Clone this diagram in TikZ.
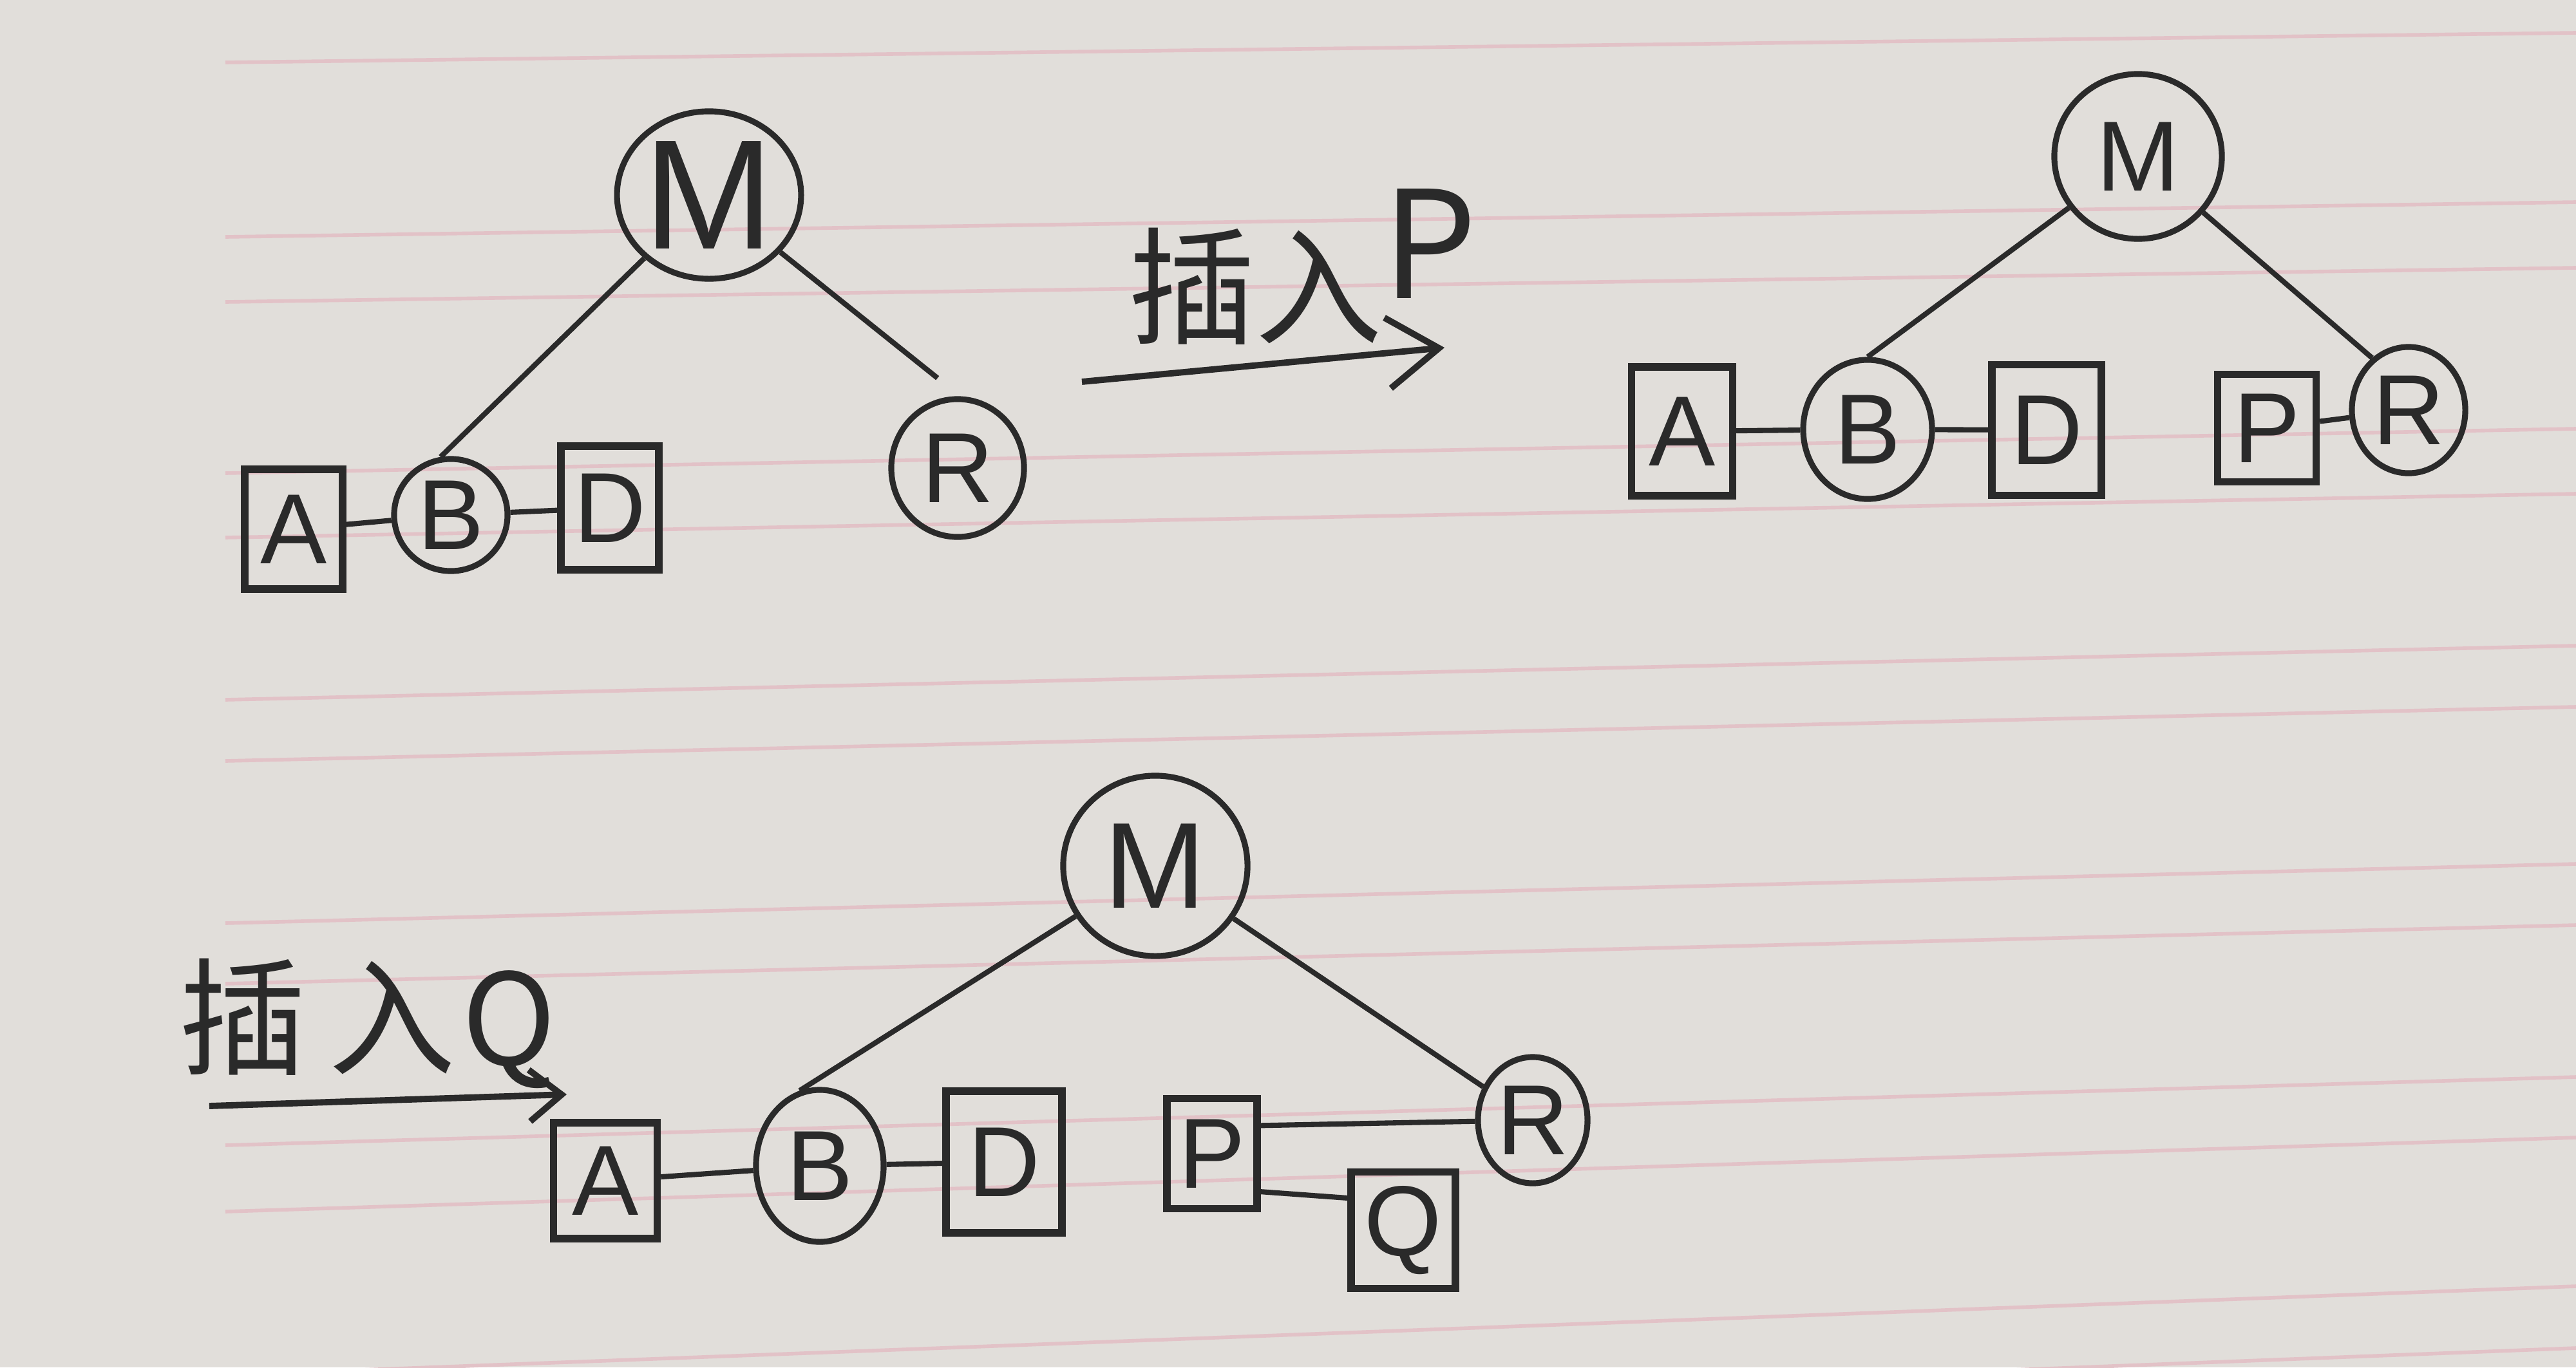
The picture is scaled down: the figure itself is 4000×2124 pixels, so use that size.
\documentclass[tikz,border=0pt]{standalone}
\usepackage{fontspec}
\setmainfont{Liberation Sans}
\newfontfamily\cjk{Noto Sans CJK SC}
\usetikzlibrary{shapes.geometric,arrows.meta}
\definecolor{paperc}{RGB}{225,222,218}
\definecolor{rulec}{RGB}{226,194,199}
\definecolor{inkc}{RGB}{42,42,42}
\tikzset{
  cnode/.style={ellipse, draw=inkc, line width=2.6pt, inner sep=0pt, text=inkc, font=\fontsize{44}{50}\selectfont},
  bnode/.style={rectangle, draw=inkc, line width=3.2pt, inner sep=0pt, text=inkc, font=\fontsize{44}{50}\selectfont},
  link/.style={draw=inkc, line width=2.3pt},
  arr/.style={draw=inkc, line width=2.8pt, -{Straight Barb[length=8mm,width=11mm]}},
  arrsmall/.style={draw=inkc, line width=2.8pt, -{Straight Barb[length=5mm,width=8mm]}},
  hand/.style={text=inkc, font=\cjk\fontsize{56}{60}\selectfont, inner sep=0pt},
  ruling/.style={draw=rulec, line width=1.6pt}
}
\begin{document}
\begin{tikzpicture}[x=0.01cm,y=-0.01cm]
\useasboundingbox (0,0) rectangle (4000,2124);
\fill[paperc] (0,0) rectangle (4000,2124);
% paper rulings (left end y / right end y)
\foreach \yl/\yr in {97/51,368/314,469/416,735/666,835/767,1087/1003,1182/1098,1434/1342,1528/1437,1779/1673,1882/1767,2136/1998,2236/2094}
  \draw[ruling] (350,\yl) -- (4000,\yr);

% ---- top-left tree ----
\node[cnode, minimum width=2.72cm, minimum height=2.6cm, font=\fontsize{69}{72}\selectfont] (tlM) at (1101,303) {M};
\node[cnode, minimum width=1.76cm, minimum height=1.74cm] (tlB) at (700,800) {B};
\node[bnode, minimum width=1.52cm, minimum height=1.86cm] (tlA) at (456,822) {A};
\node[bnode, minimum width=1.52cm, minimum height=1.92cm] (tlD) at (947,789) {D};
\node[cnode, minimum width=2.06cm, minimum height=2.14cm] (tlR) at (1487,727) {R};
\draw[link] (tlM) -- (tlB.100);
\draw[link, shorten >=0.45cm] (tlM) -- (tlR.88);
\draw[link] (tlA) -- (tlB);
\draw[link] (tlB) -- (tlD);

% ---- arrow insert P ----
\node[hand, anchor=base west] (t1) at (1752,519) {插入\raisebox{0.55cm}{\fontsize{66}{70}\selectfont P}};
\coordinate (a1s) at (1680,593);
\coordinate (a1e) at (2243,540);
\draw[arr] (a1s) -- (a1e);

% ---- top-right tree ----
\node[cnode, minimum width=2.6cm, minimum height=2.56cm] (trM) at (3320,243) {M};
\node[cnode, minimum width=2.0cm, minimum height=2.16cm] (trB) at (2900,667) {B};
\node[bnode, minimum width=1.57cm, minimum height=2.0cm] (trA) at (2612,670) {A};
\node[bnode, minimum width=1.7cm, minimum height=2.03cm] (trD) at (3178,668) {D};
\node[bnode, minimum width=1.53cm, minimum height=1.67cm] (trP) at (3520,665) {P};
\node[cnode, minimum width=1.76cm, minimum height=1.96cm] (trR) at (3740,637) {R};
\draw[link] (trM) -- (trB.north);
\draw[link] (trM) -- (trR.125);
\draw[link] (trA) -- (trB);
\draw[link] (trB) -- (trD);
\draw[link] (trP) -- (trR);

% ---- arrow insert Q ----
\node[hand] (t2) at (571,1590) {插\hspace{0.35cm}入\hspace{0.1cm}Q};
\coordinate (a2s) at (325,1718);
\coordinate (a2e) at (880,1700);
\draw[arrsmall] (a2s) -- (a2e);

% ---- bottom tree ----
\node[cnode, minimum width=2.86cm, minimum height=2.8cm, font=\fontsize{54}{58}\selectfont] (bM) at (1794,1345) {M};
\node[cnode, minimum width=1.98cm, minimum height=2.36cm] (bB) at (1273,1811) {B};
\node[bnode, minimum width=1.61cm, minimum height=1.8cm] (bA) at (940,1834) {A};
\node[bnode, minimum width=1.8cm, minimum height=2.2cm] (bD) at (1559,1805) {D};
\node[bnode, minimum width=1.4cm, minimum height=1.71cm] (bP) at (1882,1792) {P};
\node[cnode, minimum width=1.7cm, minimum height=1.96cm] (bR) at (2380,1740) {R};
\node[bnode, minimum width=1.62cm, minimum height=1.81cm] (bQ) at (2179,1911) {Q};
\draw[link] (bM) -- (bB.105);
\draw[link] (bM) -- (bR);
\draw[link] (bA) -- (bB);
\draw[link] (bB) -- (bD);
\draw[link] (bP.30) -- (bR);
\draw[link] (bP.-38) -- (bQ.150);
\end{tikzpicture}
\end{document}
